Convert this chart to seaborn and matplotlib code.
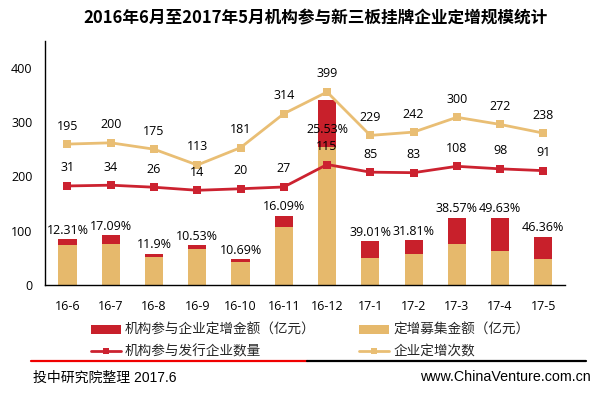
import matplotlib
matplotlib.use('Agg')
import matplotlib.pyplot as plt
import seaborn as sns
import numpy as np
import pandas as pd
from matplotlib.patches import Patch
from matplotlib.lines import Line2D

# ---- data ----
months = ["16-6", "16-7", "16-8", "16-9", "16-10", "16-11", "16-12",
          "17-1", "17-2", "17-3", "17-4", "17-5"]
raise_amount = [74.5, 76.3, 51.1, 66.2, 42.9, 107.4, 254.0, 49.4, 56.6, 76.2, 62.5, 47.7]  # 定增募集金额
inst_amount = [10.5, 15.7, 6.9, 7.8, 5.1, 20.6, 87.0, 31.6, 26.4, 47.8, 61.5, 41.3]        # 机构参与企业定增金额
inst_share = ["12.31%", "17.09%", "11.9%", "10.53%", "10.69%", "16.09%", "25.53%",
              "39.01%", "31.81%", "38.57%", "49.63%", "46.36%"]
inst_firms = [31, 34, 26, 14, 20, 27, 115, 85, 83, 108, 98, 91]          # 机构参与发行企业数量
placements = [195, 200, 175, 113, 181, 314, 399, 229, 242, 300, 272, 238]  # 企业定增次数
y_ticks = [0, 100, 200, 300, 400]

RED = "#C8202B"
BEIGE = "#E6B96C"
LRED = "#CC2230"
ORANGE = "#E9BE74"

sns.set_theme(style="white")
plt.rcParams['font.family'] = ['Open Sans', 'Noto Sans CJK SC', 'DejaVu Sans']

W, H = 610, 399
fig = plt.figure(figsize=(W / 100, H / 100), dpi=100)
fig.patch.set_facecolor("white")
ax = fig.add_axes([45 / W, 1 - 285 / H, (565 - 45) / W, (285 - 40.7) / H])

df = pd.DataFrame({"month": months, "raise": raise_amount, "inst": inst_amount})
df["total"] = df["raise"] + df["inst"]

sns.barplot(data=df, x="month", y="total", color=RED, saturation=1, width=0.42,
            errorbar=None, linewidth=0, ax=ax)
sns.barplot(data=df, x="month", y="raise", color=BEIGE, saturation=1, width=0.42,
            errorbar=None, linewidth=0, ax=ax)

ax.set_ylim(0, 450)
ax.set_yticks(y_ticks)
ax.set_xlabel("")
ax.set_ylabel("")
for s in ["top", "right"]:
    ax.spines[s].set_visible(False)
for s in ["left", "bottom"]:
    ax.spines[s].set_color("black")
    ax.spines[s].set_linewidth(1.0)
ax.tick_params(axis="both", length=0, labelsize=9, colors="black")
ax.tick_params(axis="y", pad=9)
ax.tick_params(axis="x", pad=10.5)
ax.grid(False)

ax2 = ax.twinx()
ax2.set_ylim(-357, 600)
xs = np.arange(len(months))
sns.lineplot(x=xs, y=inst_firms, ax=ax2, color=LRED, linewidth=2, marker="s",
             markersize=5.5, markeredgewidth=0)
sns.lineplot(x=xs, y=placements, ax=ax2, color=ORANGE, linewidth=2, marker="s",
             markersize=5.5, markeredgewidth=0)
ax2.set_yticks([])
ax2.set_ylabel("")
for s in ax2.spines.values():
    s.set_visible(False)
ax2.grid(False)

for i, v in enumerate(placements):
    ax2.annotate(str(v), (i, v), xytext=(0, 13), textcoords="offset points",
                 ha="center", va="center", fontsize=9, color="black")
for i, v in enumerate(inst_firms):
    ax2.annotate(str(v), (i, v), xytext=(0, 13), textcoords="offset points",
                 ha="center", va="center", fontsize=9, color="black")

label_shift = {6: -21}
totals = df["total"].tolist()
for i, (t, lab) in enumerate(zip(totals, inst_share)):
    ax.annotate(lab, (i, t), xytext=(0, label_shift.get(i, 6.3)), textcoords="offset points",
                ha="center", va="center", fontsize=9, color="black", zorder=5)

ax.set_xlim(-0.52, 11.5)

# title
fig.text(315 / W, 1 - 18.3 / H, "2016年6月至2017年5月机构参与新三板挂牌企业定增规模统计",
         ha="center", va="center", fontsize=12, fontweight="bold",
         family=["Noto Sans CJK SC", "DejaVu Sans"], color="black")

# legend
handles = [
    Patch(facecolor=RED, edgecolor="none"),
    Line2D([], [], color=LRED, linewidth=2, marker="s", markersize=5, markeredgewidth=0),
    Patch(facecolor=BEIGE, edgecolor="none"),
    Line2D([], [], color=ORANGE, linewidth=2, marker="s", markersize=5, markeredgewidth=0),
]
labels = ["机构参与企业定增金额（亿元）", "机构参与发行企业数量", "定增募集金额（亿元）", "企业定增次数"]
leg = fig.legend(handles, labels, ncol=2, loc="upper left",
                 bbox_to_anchor=(90.7 / W, 1 - 323 / H), frameon=False,
                 borderaxespad=0, borderpad=0, handlelength=2.2, handleheight=0.6,
                 handletextpad=0.3, columnspacing=3.2, labelspacing=0.55,
                 prop={"family": ["Noto Sans CJK SC", "DejaVu Sans"], "size": 9.8})

# separator line
fig.add_artist(Line2D([30.7 / W, 307.3 / W], [1 - 361.3 / H] * 2, color="#F00000", linewidth=1.6))
fig.add_artist(Line2D([307.3 / W, 586 / W], [1 - 361.3 / H] * 2, color="black", linewidth=1.6))

# footer
fig.text(33.3 / W, 1 - 377.3 / H, "投中研究院整理 2017.6", ha="left", va="center",
         fontsize=10, family=["Liberation Sans", "Noto Sans CJK SC"], color="black")
fig.text(591 / W, 1 - 377.3 / H, "www.ChinaVenture.com.cn", ha="right", va="center",
         fontsize=10.3, family=["Liberation Sans"], color="black")

fig.savefig("out.png", dpi=100, facecolor="white")
